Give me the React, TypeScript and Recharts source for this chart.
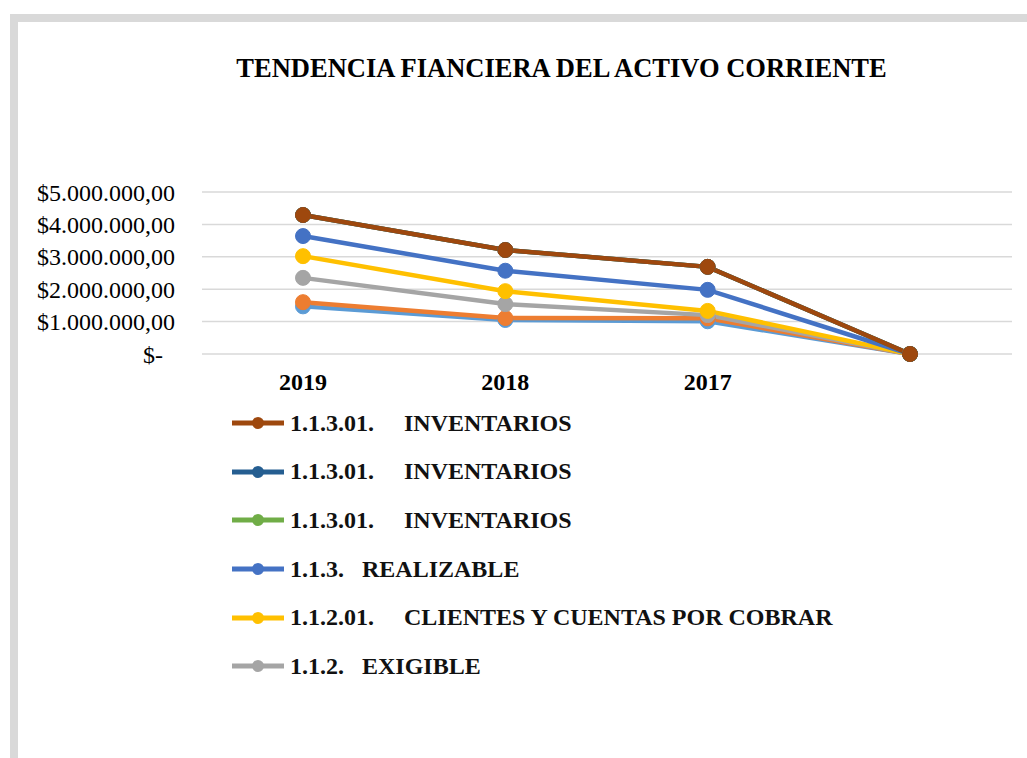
import { LineChart, Line, XAxis, YAxis, CartesianGrid } from 'recharts';

const SERIF = "'Liberation Serif', 'Times New Roman', serif";

// categorias del eje x (la ultima no tiene etiqueta)
const categories = ['2019', '2018', '2017', ''];

// valores
const inventarios = [4290000, 3210000, 2690000, 0];
const realizable = [3640000, 2570000, 1980000, 0];
const clientes = [3020000, 1940000, 1330000, 0];
const exigible = [2350000, 1540000, 1200000, 0];
const serieNaranja = [1600000, 1110000, 1100000, 0];
const serieCeleste = [1470000, 1050000, 1010000, 0];

const yTicks = [0, 1000000, 2000000, 3000000, 4000000, 5000000];

// orden de dibujo: la primera queda abajo
const series = [
  { key: 'celeste', values: serieCeleste, color: '#5B9BD5' },
  { key: 'naranja', values: serieNaranja, color: '#ED7D31' },
  { key: 'exigible', values: exigible, color: '#A5A5A5' },
  { key: 'clientes', values: clientes, color: '#FFC000' },
  { key: 'realizable', values: realizable, color: '#4472C4' },
  { key: 'inv3', values: inventarios, color: '#70AD47' },
  { key: 'inv2', values: inventarios, color: '#255E91' },
  { key: 'inv1', values: inventarios, color: '#9E480E' },
];

const legendLabels = [
  '1.1.3.01.     INVENTARIOS',
  '1.1.3.01.     INVENTARIOS',
  '1.1.3.01.     INVENTARIOS',
  '1.1.3.   REALIZABLE',
  '1.1.2.01.     CLIENTES Y CUENTAS POR COBRAR',
  '1.1.2.   EXIGIBLE',
];
const legendColors = ['#9E480E', '#255E91', '#70AD47', '#4472C4', '#FFC000', '#A5A5A5'];

const data = categories.map((c, i) => {
  const row: Record<string, string | number> = { name: c };
  series.forEach((s) => {
    row[s.key] = s.values[i];
  });
  return row;
});

function formatMoney(v: number): string {
  if (v === 0) return '$-\u00A0\u00A0';
  const s = Math.round(v)
    .toString()
    .replace(/\B(?=(\d{3})+(?!\d))/g, '.');
  return `$${s},00`;
}

export default function App() {
  return (
    <div
      style={{
        position: 'absolute',
        left: 0,
        top: 0,
        width: 1027,
        height: 758,
        overflow: 'hidden',
        background: '#fff',
        fontFamily: SERIF,
      }}
    >
      {/* marco gris */}
      <div
        style={{
          position: 'absolute',
          left: 10,
          top: 14,
          width: 1100,
          height: 800,
          borderTop: '8px solid #D9D9D9',
          borderLeft: '8px solid #D9D9D9',
        }}
      />
      <div
        style={{
          position: 'absolute',
          left: 0,
          width: 1123,
          top: 50,
          textAlign: 'center',
          fontSize: 26.5,
          fontWeight: 'bold',
          lineHeight: '36px',
          color: '#000',
        }}
      >
        TENDENCIA FIANCIERA DEL ACTIVO CORRIENTE
      </div>
      <div style={{ position: 'absolute', left: 0, top: 0 }}>
        <LineChart width={1027} height={400} data={data} margin={{ top: 192, right: 15, bottom: 0, left: 0 }}>
          <CartesianGrid vertical={false} stroke="#D9D9D9" strokeWidth={1.5} />
          <XAxis
            dataKey="name"
            axisLine={false}
            tickLine={false}
            tickMargin={13}
            height={46}
            padding={{ left: 101, right: 102 }}
            tick={{ fill: '#000', fontSize: 24, fontWeight: 'bold', fontFamily: SERIF }}
            interval={0}
          />
          <YAxis
            width={202}
            domain={[0, 5000000]}
            ticks={yTicks}
            axisLine={false}
            tickLine={false}
            tickMargin={21}
            tickFormatter={formatMoney}
            tick={{ fill: '#000', fontSize: 24, fontFamily: SERIF }}
          />
          {series.map((s) => (
            <Line
              key={s.key}
              dataKey={s.key}
              stroke={s.color}
              strokeWidth={4.5}
              dot={{ r: 7.5, fill: s.color, stroke: s.color, strokeWidth: 1 }}
              activeDot={false}
              isAnimationActive={false}
            />
          ))}
        </LineChart>
      </div>
      {/* leyenda */}
      <div style={{ position: 'absolute', left: 232, top: 399 }}>
        {legendLabels.map((label, i) => (
          <div key={i} style={{ display: 'flex', alignItems: 'center', height: 48.6 }}>
            <svg width={56} height={20} style={{ display: 'block' }}>
              <line x1={0} y1={10} x2={52} y2={10} stroke={legendColors[i]} strokeWidth={5} />
              <circle cx={26} cy={10} r={6} fill={legendColors[i]} />
            </svg>
            <span
              style={{
                whiteSpace: 'pre',
                fontSize: 24,
                fontWeight: 'bold',
                color: '#111',
                marginLeft: 2,
              }}
            >
              {label}
            </span>
          </div>
        ))}
      </div>
    </div>
  );
}
